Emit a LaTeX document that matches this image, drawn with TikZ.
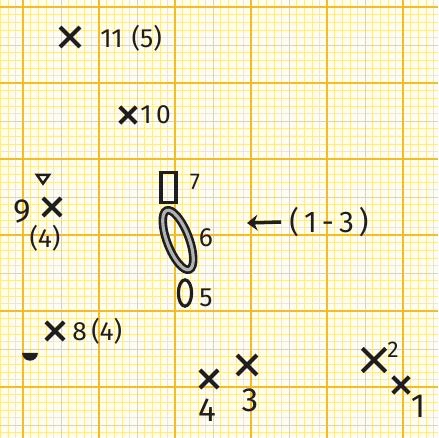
\documentclass[tikz,border=0pt]{standalone}
\usepackage{fontspec}
\setmainfont{Fira Sans}
\usepackage{tikz}
\usetikzlibrary{shapes.geometric, shapes.misc, arrows.meta}

\definecolor{paper}{RGB}{255,253,242}
\definecolor{gridminor}{RGB}{252,234,150}
\definecolor{gridmid}{RGB}{248,214,95}
\definecolor{gridmajor}{RGB}{243,190,35}
\definecolor{ink}{RGB}{30,30,30}

\tikzset{
  crossmk/.style={draw=ink, cross out, line width=2.3pt, inner sep=0pt, minimum size=#1},
  crossmk/.default=8pt,
  lbl/.style={text=ink, inner sep=0pt, font=\fontsize{15}{15}\selectfont},
  biglbl/.style={text=ink, inner sep=0pt, font=\fontsize{19}{19}\selectfont},
  smalllbl/.style={text=ink, inner sep=0pt, font=\fontsize{13}{13}\selectfont},
  penline/.style={draw=ink, line width=1.8pt},
}

\begin{document}
\begin{tikzpicture}[x=0.02cm, y=-0.02cm]
    \useasboundingbox (0,0) rectangle (438,438);
    % Graph paper
    \fill[paper] (0,0) rectangle (438,438);
    \foreach \i in {0,...,57} {
        \pgfmathsetmacro{\gx}{0.2+7.6*\i}
        \draw[gridminor, line width=0.3pt] (\gx,0) -- (\gx,438);
    }
    \foreach \j in {0,...,58} {
        \pgfmathsetmacro{\gy}{-0.6+7.6*\j}
        \draw[gridminor, line width=0.3pt] (0,\gy) -- (438,\gy);
    }
    \foreach \i in {8,18,...,58} {
        \draw[gridmid, line width=0.45pt] ({0.2+7.6*\i},0) -- ({0.2+7.6*\i},438);
        \draw[gridmid, line width=0.45pt] (0,{-0.6+7.6*(\i-2)}) -- (438,{-0.6+7.6*(\i-2)});
    }
    \foreach \i in {3,13,...,53} {
        \draw[gridmajor, line width=0.75pt] ({0.2+7.6*\i},0) -- ({0.2+7.6*\i},438);
        \draw[gridmajor, line width=0.75pt] (0,{-0.6+7.6*(\i-2)}) -- (438,{-0.6+7.6*(\i-2)});
    }

    % Crosses
    \node[crossmk=9pt] (p11) at (70,37) {};
    \node[lbl, anchor=west] (l11) at (100,38) {11\,\,(5)};
    \node[crossmk=7pt] (p10) at (128,115) {};
    \node[lbl, anchor=west] (l10) at (140,115) {1\,0};
    \node[crossmk=8pt] (p9) at (52,207) {};
    \node[biglbl] (l9) at (22,212) {9};
    \node[lbl] (l9b) at (45,238) {(4)};
    \node[crossmk=8pt] (p8) at (55,331) {};
    \node[lbl, anchor=west] (l8) at (72,331) {8\,(4)};
    \node[crossmk=8pt] (p4) at (209,379) {};
    \node[biglbl] (l4) at (207,410) {4};
    \node[crossmk=9pt] (p3) at (247,365) {};
    \node[biglbl] (l3) at (250,400) {3};
    \node[crossmk=11pt] (p2) at (374,360) {};
    \node[smalllbl] (l2) at (393,350) {2};
    \node[crossmk=7pt] (p1) at (401,385) {};
    \node[biglbl] (l1) at (418,406) {1};

    % Small markers
    \node[draw=ink, line width=1.4pt, isosceles triangle, shape border rotate=-90,
          isosceles triangle apex angle=70, inner sep=0pt, minimum size=5pt] (m9) at (43,178) {};
    \node[fill=ink, semicircle, shape border rotate=180, inner sep=0pt,
          minimum width=9pt] (m8) at (30,356) {};

    % Middle group
    \node[penline, rectangle, minimum width=8.5pt, minimum height=17pt] (r7) at (168.5,187.5) {};
    \node[smalllbl] (l7) at (195,182) {7};
    \node[draw=ink, double=gray!60, double distance=1.8pt, line width=1.5pt,
          ellipse, rotate=21, minimum width=12.5pt, minimum height=36pt] (o6) at (178,240) {};
    \node[lbl] (l6) at (206,238) {6};
    \node[penline, ellipse, minimum width=7.5pt, minimum height=15pt, inner sep=0pt] (o5) at (185,293) {};
    \node[lbl] (l5) at (206,298) {5};

    % Pointer
    \node[lbl, font=\fontsize{17}{17}\selectfont] (l13) at (329,222) {(\,1\,-\,3\,)};
    \coordinate (tip) at (247,223);
    \draw[-{Stealth[length=6pt,width=9pt]}, ink, line width=2pt] (l13.west) ++(-8,0) -- (tip);
\end{tikzpicture}
\end{document}
